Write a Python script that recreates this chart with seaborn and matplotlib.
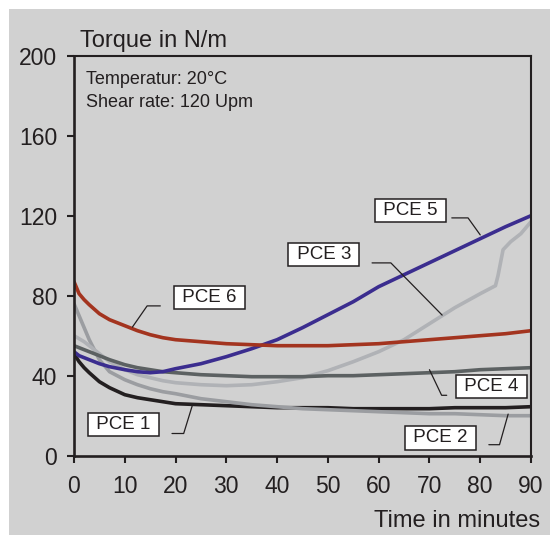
import matplotlib
matplotlib.use("Agg")
import matplotlib.pyplot as plt
from matplotlib.patches import Rectangle
import seaborn as sns
import pandas as pd

# torque curves, values (minutes, N/m)
t_common = [0, 1, 2, 3, 5, 7, 10, 12.5, 15, 17.5, 20, 25, 30, 35, 40, 45,
            50, 55, 60, 65, 70, 75, 80, 85, 90]
pce1 = [51, 47, 44, 41.5, 37, 34, 30.5, 29, 28, 27, 26, 25.5, 25, 24.5, 24, 24,
        24, 23.5, 23.5, 23.5, 23.5, 24, 24, 24, 24.5]
pce2 = [76, 70, 64, 58, 48, 42, 38, 35.5, 33.5, 32, 31, 28.5, 27, 25.5, 24.5, 23.5,
        23, 22.5, 22, 21.5, 21, 21, 20.5, 20, 20]
pce4 = [55, 54, 53, 52, 50, 48, 45.5, 44, 43, 42, 41.5, 40.5, 40, 39.5, 39.5, 39.5,
        40, 40, 40.5, 41, 41.5, 42, 43, 43.5, 44]
pce5 = [52, 50, 49, 48, 46, 44.5, 43, 42, 41.5, 42, 43.5, 46, 49.5, 53.5, 58, 64,
        70.5, 77, 84.5, 90.5, 96.5, 102.5, 108.5, 114.5, 120]
pce6 = [87, 81, 78, 75.5, 71, 68, 65, 62.5, 60.5, 59, 58, 57, 56, 55.5, 55, 55,
        55, 55.5, 56, 57, 58, 59, 60, 61, 62.5]

t_pce3 = [0, 1, 2, 3, 5, 7, 10, 12.5, 15, 17.5, 20, 25, 30, 35, 40, 45, 50, 55,
          60, 65, 70, 75, 80, 83, 83.5, 84.5, 86, 88, 90]
pce3 = [60, 58.5, 57, 55, 51, 47, 43, 40.5, 39, 37.5, 36.5, 35.5, 35, 35.5, 37, 39,
        42.5, 47, 52, 58, 66, 74, 81, 85, 90, 103, 107, 111, 117]

series = {
    "PCE 1": (t_common, pce1),
    "PCE 2": (t_common, pce2),
    "PCE 3": (t_pce3, pce3),
    "PCE 4": (t_common, pce4),
    "PCE 5": (t_common, pce5),
    "PCE 6": (t_common, pce6),
}
palette = {
    "PCE 1": "#231f20",
    "PCE 2": "#9b9da1",
    "PCE 3": "#b0b2b6",
    "PCE 4": "#5c6162",
    "PCE 5": "#3b2d8f",
    "PCE 6": "#a3341f",
}

# label box centre, then leader line points (data coords)
labels = {
    "PCE 5": ((66.3, 122.5), [(74.4, 118.9), (77.6, 118.9), (80.0, 110.4)]),
    "PCE 3": ((49.2, 100.5), [(58.7, 96.4), (62.4, 96.4), (72.5, 70.3)]),
    "PCE 6": ((26.6, 79.2), [(17.0, 74.9), (14.4, 74.9), (11.5, 64.3)]),
    "PCE 4": ((82.2, 34.5), [(73.4, 30.2), (72.4, 30.2), (70.0, 43.0)]),
    "PCE 1": ((9.7, 15.7), [(19.3, 11.1), (21.6, 11.1), (23.3, 25.1)]),
    "PCE 2": ((72.2, 8.9), [(81.7, 5.5), (83.8, 5.5), (85.5, 20.8)]),
}

rows = []
for name, (ts, vs) in series.items():
    for x, y in zip(ts, vs):
        rows.append({"time": x, "torque": y, "sample": name})
df = pd.DataFrame(rows)

sns.set_style("ticks")
plt.rcParams["font.family"] = ["Liberation Sans", "DejaVu Sans"]
ink = "#231f20"
bg = "#d1d1d1"

fig = plt.figure(figsize=(5.5, 5.35), dpi=100, facecolor="white")
fig.patches.append(Rectangle((9 / 550, 0), 1, 1 - 9 / 535, transform=fig.transFigure,
                             facecolor=bg, edgecolor="none", zorder=-10))
ax = fig.add_axes([74 / 550, 1 - 455.7 / 535, 457 / 550, 400 / 535])
ax.set_facecolor(bg)

sns.lineplot(data=df, x="time", y="torque", hue="sample", palette=palette,
             estimator=None, sort=False, linewidth=2.6, legend=False, ax=ax)

for name, ((cx, cy), pts) in labels.items():
    xs, ys = zip(*pts)
    ax.plot(xs, ys, color=ink, lw=0.9, zorder=4)
    # spaces widen the box sideways, like the boxes in the original
    ax.text(cx, cy, f" {name} ", ha="center", va="center", fontsize=13.5, color=ink,
            zorder=5,
            bbox=dict(boxstyle="square,pad=0.17", facecolor="white", edgecolor=ink, lw=1.1))

ax.set_xlim(0, 90)
ax.set_ylim(0, 200)
ax.set_xticks(range(0, 91, 10))
ax.set_yticks(range(0, 201, 40))
ax.set_xlabel("")
ax.set_ylabel("")
for s in ax.spines.values():
    s.set_color(ink)
    s.set_linewidth(1.5)
ax.spines["left"].set_linewidth(1.9)
ax.spines["bottom"].set_linewidth(1.9)
ax.tick_params(axis="both", direction="out", length=5, width=1.5, colors=ink,
               labelsize=16.5, labelcolor=ink)
ax.tick_params(axis="x", pad=9)
ax.tick_params(axis="y", pad=7)

ax.text(0.013, 1.022, "Torque in N/m", transform=ax.transAxes, fontsize=17,
        color=ink, ha="left", va="baseline")
ax.text(0.026, 0.929, "Temperatur: 20°C", transform=ax.transAxes, fontsize=13,
        color=ink, ha="left", va="baseline")
ax.text(0.026, 0.872, "Shear rate: 120 Upm", transform=ax.transAxes, fontsize=13,
        color=ink, ha="left", va="baseline")
fig.text(540 / 550, 1 - 527 / 535, "Time in minutes", fontsize=17, color=ink,
         ha="right", va="baseline")

fig.savefig("out.png", dpi=100, facecolor=fig.get_facecolor())
